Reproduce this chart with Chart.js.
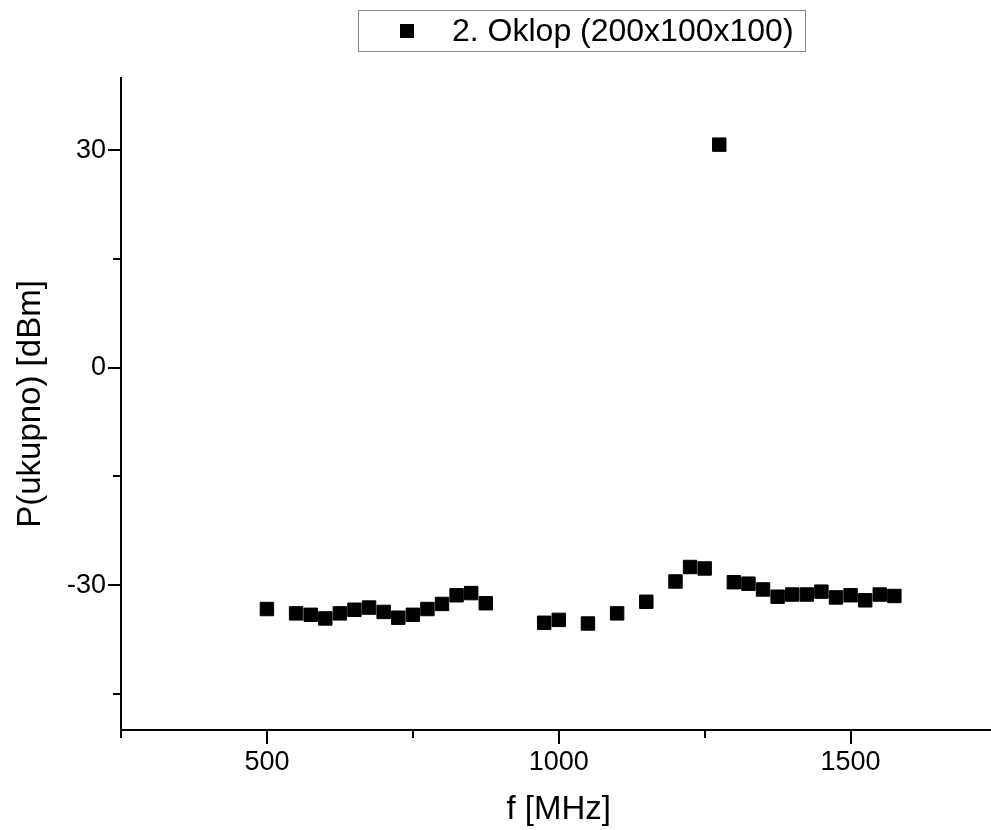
<!DOCTYPE html>
<html>
<head>
<meta charset="utf-8">
<script src="https://cdn.jsdelivr.net/npm/chart.js@4"></script>
<style>
  html, body { margin: 0; padding: 0; background: #fff; overflow: hidden; }
  canvas { display: block; }
</style>
</head>
<body>
<canvas id="myChart" width="1007" height="830"></canvas>
<script>
const seriesLabel = '2. Oklop (200x100x100)';
const freq = [500, 550, 575, 600, 625, 650, 675, 700, 725, 750, 775, 800, 825, 850, 875,
    975, 1000, 1050, 1100, 1150, 1200, 1225, 1250, 1275, 1300, 1325, 1350, 1375,
    1400, 1425, 1450, 1475, 1500, 1525, 1550, 1575];
const power = [-33.3, -33.9, -34.1, -34.6, -33.9, -33.4, -33.1, -33.7, -34.5, -34.1, -33.3, -32.6, -31.4, -31.1, -32.5,
    -35.2, -34.8, -35.3, -33.9, -32.3, -29.5, -27.5, -27.7, 30.8, -29.6, -29.8, -30.6, -31.6,
    -31.3, -31.3, -30.9, -31.7, -31.4, -32.1, -31.3, -31.5];
const xTicks = [250, 500, 750, 1000, 1250, 1500, 1750];
const xLabels = [500, 1000, 1500];
const yTicks = [-45, -30, -15, 0, 15, 30];
const yLabels = [-30, 0, 30];

const font = 'Liberation Sans, Arial, sans-serif';

// tick marks: long for labelled ticks, short for the others
const tickMarks = {
    id: 'tickMarks',
    afterDraw(chart) {
        const ctx = chart.ctx;
        const xs = chart.scales.x, ys = chart.scales.y;
        ctx.save();
        ctx.strokeStyle = '#000';
        ctx.lineWidth = 2;
        xs.ticks.forEach((t, i) => {
            const px = Math.round(xs.getPixelForTick(i));
            const len = xLabels.includes(t.value) ? 14 : 8;
            ctx.beginPath();
            ctx.moveTo(px, xs.top);
            ctx.lineTo(px, xs.top + len);
            ctx.stroke();
        });
        ys.ticks.forEach((t, i) => {
            const py = Math.round(ys.getPixelForTick(i));
            const len = yLabels.includes(t.value) ? 13 : 8;
            ctx.beginPath();
            ctx.moveTo(ys.right, py);
            ctx.lineTo(ys.right - len, py);
            ctx.stroke();
        });
        ctx.restore();
    }
};

// boxed legend like the original
const boxLegend = {
    id: 'boxLegend',
    afterDraw(chart) {
        const ctx = chart.ctx;
        const ds = chart.data.datasets[0];
        ctx.save();
        ctx.strokeStyle = '#888';
        ctx.lineWidth = 1;
        ctx.strokeRect(358.5, 10.5, 447, 41);
        ctx.fillStyle = '#000';
        ctx.fillRect(400, 24, 14, 14);
        ctx.font = '32px ' + font;
        ctx.textBaseline = 'middle';
        ctx.fillText(ds.label, 452, 32);
        ctx.restore();
    }
};

const data = {
    datasets: [{
        label: seriesLabel,
        data: freq.map((f, i) => ({x: f, y: power[i]})),
        pointStyle: 'rect',
        pointRadius: 9.5,
        pointHoverRadius: 9.5,
        backgroundColor: '#000',
        borderColor: '#000',
        borderWidth: 1,
        showLine: false
    }]
};

const config = {
    type: 'scatter',
    data: data,
    options: {
        responsive: false,
        animation: false,
        layout: {
            padding: {top: 78, right: 2, left: 0, bottom: 0}
        },
        plugins: {
            legend: {display: false},
            tooltip: {enabled: false}
        },
        scales: {
            x: {
                type: 'linear',
                min: 250,
                max: 1750,
                afterBuildTicks: s => { s.ticks = xTicks.map(v => ({value: v})); },
                afterFit: s => { s.height = 100; s.paddingLeft = 0; s.paddingRight = 0; },
                grid: {display: false, drawTicks: false, tickLength: 0},
                border: {display: true, color: '#000', width: 2},
                ticks: {
                    color: '#000',
                    font: {family: font, size: 27},
                    padding: 16,
                    maxRotation: 0,
                    autoSkip: false,
                    callback: v => xLabels.includes(v) ? String(v) : ''
                },
                title: {
                    display: true,
                    text: 'f [MHz]',
                    color: '#000',
                    font: {family: font, size: 33},
                    padding: {top: 0, bottom: 0}
                }
            },
            y: {
                min: -50,
                max: 40,
                afterBuildTicks: s => { s.ticks = yTicks.map(v => ({value: v})); },
                afterFit: s => { s.width = 121; s.paddingTop = 0; s.paddingBottom = 0; },
                grid: {display: false, drawTicks: false, tickLength: 0},
                border: {display: true, color: '#000', width: 2},
                ticks: {
                    color: '#000',
                    font: {family: font, size: 27},
                    padding: 15,
                    autoSkip: false,
                    callback: v => yLabels.includes(v) ? String(v) : ''
                },
                title: {
                    display: true,
                    text: 'P(ukupno) [dBm]',
                    color: '#000',
                    font: {family: font, size: 33},
                    padding: {top: 11, bottom: 0}
                }
            }
        }
    },
    plugins: [tickMarks, boxLegend]
};

var ctx = document.getElementById('myChart');
const myChart = new Chart(ctx, config);
</script>
</body>
</html>
